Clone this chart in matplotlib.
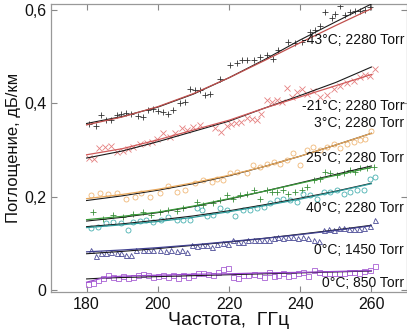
import matplotlib
matplotlib.use("Agg")
import matplotlib.pyplot as plt

plt.rcParams['font.family'] = ['Liberation Sans', 'DejaVu Sans']

# ---- measured absorption, dB/km, vs frequency, GHz ----
f_m43 = [180.8, 182.7, 184.1, 185.5, 186.9, 188.4, 189.8, 191.2, 192.6, 194.5, 195.9, 197.3,
         198.7, 200.1, 201.5, 202.9, 204.3, 206.2, 207.6, 209.0, 210.4, 211.8, 213.2, 214.6,
         217.5, 220.3, 222.2, 223.6, 225.0, 226.9, 228.7, 230.6, 232.3, 233.9, 236.7, 238.6,
         240.5, 242.8, 244.2, 245.6, 247.0, 248.9, 249.9, 251.3, 252.7, 254.1, 255.5, 256.9,
         258.3, 259.7]
a_m43 = [0.356, 0.351, 0.375, 0.364, 0.364, 0.375, 0.377, 0.380, 0.378, 0.373, 0.371, 0.386,
         0.389, 0.384, 0.382, 0.378, 0.386, 0.400, 0.403, 0.430, 0.429, 0.429, 0.418, 0.421,
         0.452, 0.482, 0.487, 0.494, 0.493, 0.492, 0.500, 0.504, 0.496, 0.514, 0.532, 0.530,
         0.532, 0.553, 0.557, 0.566, 0.596, 0.582, 0.591, 0.609, 0.589, 0.596, 0.598, 0.599,
         0.600, 0.606]

f_m21 = [180.6, 182.0, 183.4, 185.1, 186.8, 188.5, 190.1, 191.5, 193.0, 194.9, 196.9, 198.3,
         199.7, 201.4, 203.4, 204.8, 206.8, 208.2, 209.9, 211.8, 216.1, 217.7, 219.4, 220.6,
         222.0, 223.4, 225.1, 226.5, 227.9, 229.0, 230.6, 232.0, 233.4, 234.8, 236.3, 237.7,
         239.1, 240.5, 241.9, 243.7, 245.6, 247.5, 249.4, 251.3, 253.2, 255.0, 256.9, 258.3,
         259.7, 261.1]
a_m21 = [0.283, 0.281, 0.304, 0.306, 0.309, 0.296, 0.298, 0.302, 0.306, 0.313, 0.315, 0.317,
         0.324, 0.336, 0.328, 0.336, 0.347, 0.343, 0.349, 0.354, 0.347, 0.339, 0.351, 0.356,
         0.358, 0.360, 0.369, 0.366, 0.364, 0.377, 0.407, 0.403, 0.407, 0.403, 0.432, 0.414,
         0.425, 0.430, 0.420, 0.427, 0.414, 0.418, 0.430, 0.437, 0.443, 0.448, 0.456, 0.461,
         0.459, 0.473]

f_p3 = [181.3, 183.7, 186.0, 188.4, 191.2, 193.5, 195.4, 197.7, 200.6, 202.8, 205.4, 207.6,
        210.4, 212.8, 215.1, 216.5, 218.4, 220.3, 222.2, 225.0, 226.8, 228.7, 230.6, 232.5,
        234.4, 236.3, 238.1, 240.0, 241.9, 243.7, 245.6, 247.5, 249.4, 251.3, 253.2, 255.0,
        256.9, 258.3, 260.0]
a_p3 = [0.204, 0.208, 0.205, 0.208, 0.196, 0.200, 0.208, 0.199, 0.208, 0.224, 0.210, 0.214,
        0.230, 0.236, 0.232, 0.239, 0.236, 0.250, 0.254, 0.250, 0.268, 0.264, 0.271, 0.275,
        0.271, 0.279, 0.293, 0.268, 0.300, 0.307, 0.300, 0.307, 0.314, 0.304, 0.314, 0.318,
        0.321, 0.324, 0.340]

f_p25 = [181.8, 184.6, 187.4, 190.2, 193.1, 195.9, 198.2, 200.6, 202.9, 205.3, 207.1, 210.9,
         212.8, 215.6, 217.5, 219.3, 221.2, 223.1, 225.0, 226.9, 228.7, 230.6, 232.0, 233.4,
         235.3, 236.7, 238.6, 240.5, 241.9, 243.8, 245.6, 247.0, 248.5, 250.3, 252.2, 254.1,
         255.5, 256.9, 258.8, 260.7]
a_p25 = [0.168, 0.153, 0.161, 0.157, 0.163, 0.168, 0.161, 0.168, 0.171, 0.170, 0.175, 0.189,
         0.182, 0.186, 0.193, 0.203, 0.196, 0.203, 0.207, 0.214, 0.196, 0.214, 0.211, 0.211,
         0.214, 0.207, 0.211, 0.214, 0.221, 0.236, 0.239, 0.254, 0.250, 0.246, 0.250, 0.257,
         0.254, 0.261, 0.261, 0.264]

f_p40 = [181.3, 183.2, 185.5, 187.4, 189.8, 191.6, 193.1, 194.9, 196.8, 198.7, 201.0, 202.9,
         205.3, 207.1, 209.0, 210.9, 212.3, 213.7, 215.6, 217.5, 219.3, 221.7, 224.0, 225.9,
         227.8, 229.7, 231.5, 233.4, 235.3, 237.2, 239.1, 240.9, 242.8, 244.7, 246.6, 248.5,
         250.3, 252.2, 254.1, 256.0, 257.8, 259.7, 261.1]
a_p40 = [0.134, 0.136, 0.143, 0.146, 0.143, 0.129, 0.146, 0.148, 0.150, 0.146, 0.150, 0.156,
         0.151, 0.151, 0.150, 0.175, 0.171, 0.158, 0.161, 0.175, 0.171, 0.158, 0.171, 0.171,
         0.175, 0.178, 0.186, 0.193, 0.196, 0.194, 0.189, 0.207, 0.203, 0.196, 0.211, 0.211,
         0.214, 0.207, 0.211, 0.214, 0.214, 0.239, 0.243]

f_1450 = [181.3, 182.7, 184.1, 185.5, 186.9, 188.4, 189.8, 191.2, 192.6, 194.0, 195.9, 197.3,
          198.7, 200.6, 202.4, 203.8, 205.3, 206.7, 208.1, 209.5, 210.9, 212.3, 213.7, 215.1,
          216.5, 218.4, 219.8, 221.2, 222.6, 224.0, 225.4, 226.9, 228.3, 229.7, 231.1, 232.5,
          233.9, 235.3, 236.7, 238.1, 239.5, 240.9, 242.3, 243.8, 245.2, 246.6, 248.0, 249.4,
          250.8, 252.2, 253.6, 255.0, 256.4, 257.8, 259.7, 261.1]
a_1450 = [0.086, 0.073, 0.080, 0.079, 0.082, 0.080, 0.079, 0.075, 0.075, 0.086, 0.086, 0.087,
          0.086, 0.086, 0.084, 0.086, 0.084, 0.086, 0.082, 0.096, 0.094, 0.096, 0.096, 0.093,
          0.099, 0.101, 0.099, 0.108, 0.103, 0.103, 0.107, 0.107, 0.107, 0.107, 0.108, 0.111,
          0.114, 0.111, 0.114, 0.114, 0.111, 0.114, 0.111, 0.107, 0.106, 0.129, 0.130, 0.129,
          0.134, 0.134, 0.132, 0.132, 0.132, 0.134, 0.137, 0.151]

f_850 = [180.3, 181.8, 183.2, 184.6, 186.0, 187.4, 188.8, 190.2, 191.6, 193.1, 194.5, 195.9,
         197.3, 198.7, 200.1, 201.5, 202.9, 204.3, 205.7, 207.1, 208.6, 210.0, 211.4, 212.8,
         214.2, 215.6, 217.0, 218.4, 219.8, 221.2, 222.6, 224.0, 225.4, 226.9, 228.3, 229.7,
         231.1, 232.5, 233.9, 235.3, 236.7, 238.1, 239.5, 240.9, 242.3, 243.8, 245.2, 246.6,
         248.0, 249.4, 250.8, 252.2, 253.6, 255.0, 256.4, 257.8, 259.7, 261.1]
a_850 = [0.013, 0.016, 0.021, 0.025, 0.032, 0.029, 0.027, 0.030, 0.027, 0.029, 0.032, 0.034,
         0.032, 0.029, 0.030, 0.032, 0.029, 0.032, 0.027, 0.032, 0.029, 0.032, 0.036, 0.036,
         0.034, 0.032, 0.039, 0.046, 0.048, 0.029, 0.027, 0.032, 0.032, 0.034, 0.032, 0.029,
         0.039, 0.030, 0.032, 0.036, 0.030, 0.032, 0.037, 0.039, 0.030, 0.043, 0.039, 0.036,
         0.037, 0.037, 0.036, 0.037, 0.039, 0.039, 0.037, 0.041, 0.043, 0.051]

# ---- model curves (two models per condition) on a 10 GHz grid ----
f_fit = [180, 190, 200, 210, 220, 230, 240, 250, 260]
m43_k = [0.357, 0.372, 0.392, 0.420, 0.455, 0.494, 0.536, 0.575, 0.613]
m43_c = [0.354, 0.371, 0.393, 0.421, 0.455, 0.492, 0.530, 0.567, 0.603]
m21_k = [0.283, 0.298, 0.318, 0.340, 0.362, 0.390, 0.417, 0.445, 0.478]
m21_c = [0.290, 0.303, 0.322, 0.343, 0.364, 0.390, 0.414, 0.438, 0.462]
p3_k = [0.192, 0.202, 0.214, 0.228, 0.245, 0.265, 0.287, 0.311, 0.336]
p3_c = [0.196, 0.205, 0.216, 0.230, 0.246, 0.265, 0.287, 0.311, 0.336]
p25_k = [0.148, 0.156, 0.166, 0.179, 0.195, 0.212, 0.230, 0.248, 0.266]
p25_c = [0.151, 0.158, 0.167, 0.180, 0.196, 0.212, 0.229, 0.246, 0.263]
p40_k = [0.136, 0.142, 0.150, 0.159, 0.170, 0.183, 0.197, 0.212, 0.229]
p40_c = [0.134, 0.140, 0.147, 0.156, 0.168, 0.181, 0.195, 0.211, 0.228]
t1450_k = [0.078, 0.083, 0.089, 0.096, 0.103, 0.111, 0.120, 0.129, 0.139]
t1450_c = [0.082, 0.086, 0.091, 0.097, 0.104, 0.111, 0.119, 0.128, 0.138]
f_fit850 = [180, 185, 190, 200, 210, 220, 230, 240, 250, 260]
t850_k = [0.024, 0.026, 0.027, 0.029, 0.031, 0.033, 0.035, 0.037, 0.039, 0.041]
t850_c = [0.017, 0.027, 0.030, 0.032, 0.034, 0.035, 0.037, 0.038, 0.040, 0.042]

labels = ["-43°C; 2280 Torr", "-21°C; 2280 Torr", "3°C; 2280 Torr", "25°C; 2280 Torr",
          "40°C; 2280 Torr", "0°C; 1450 Torr", "0°C; 850 Torr"]
label_y = [0.536, 0.394, 0.358, 0.283, 0.176, 0.086, 0.015]

fig = plt.figure(figsize=(4.07, 3.31), dpi=100)
ax = fig.add_axes([51 / 407, 39 / 331, 356 / 407, 288 / 331])

series = [
    (f_m43, a_m43, '+', '#333333', m43_k, m43_c, '#c0504d', f_fit),
    (f_m21, a_m21, 'x', '#e58080', m21_k, m21_c, '#d05a5a', f_fit),
    (f_p3, a_p3, 'o', '#f0b878', p3_k, p3_c, '#e8a85c', f_fit),
    (f_p25, a_p25, '+', '#3a8f3a', p25_k, p25_c, '#3a9a3a', f_fit),
    (f_p40, a_p40, 'o', '#48b0b0', p40_k, p40_c, '#2e9a9a', f_fit),
    (f_1450, a_1450, '^', '#4a4a96', t1450_k, t1450_c, '#404090', f_fit),
    (f_850, a_850, 's', '#a860d4', t850_k, t850_c, '#9a48cc', f_fit850),
]

for fx, ay, mk, mc, fk, fc, lc, fgrid in series:
    filled = mk in ('+', 'x')
    ax.plot(fx, ay, linestyle='none', marker=mk, ms=4.2 if filled else 3.6,
            mew=0.6, color=mc, mfc=mc if filled else 'none', mec=mc, zorder=2)
    ax.plot(fgrid, fk, color='#1a1a1a', lw=0.8, zorder=3)
    ax.plot(fgrid, fc, color=lc, lw=0.9, zorder=3)

for t, y in zip(labels, label_y):
    ax.text(269.2, y, t, ha='right', va='center', fontsize=10, color='#111111',
            zorder=5)

ax.set_xlim(170, 270)
ax.set_ylim(-0.004, 0.613)
ax.set_xticks([180, 200, 220, 240, 260])
ax.set_xticklabels(['180', '200', '220', '240', '260'])
ax.set_yticks([0, 0.2, 0.4, 0.6])
ax.set_yticklabels(['0', '0,2', '0,4', '0,6'])
ax.tick_params(direction='in', length=4, width=0.8, color='#888888',
               labelsize=11.5, labelcolor='#111111', top=True, right=True)
for s in ax.spines.values():
    s.set_color('#999999')
    s.set_linewidth(0.9)

ax.set_xlabel('Частота,  ГГц', fontsize=14, color='#111111', labelpad=0)
ax.set_ylabel('Поглощение, дБ/км', fontsize=12, color='#111111', labelpad=2)

fig.savefig('out.png', dpi=100)
